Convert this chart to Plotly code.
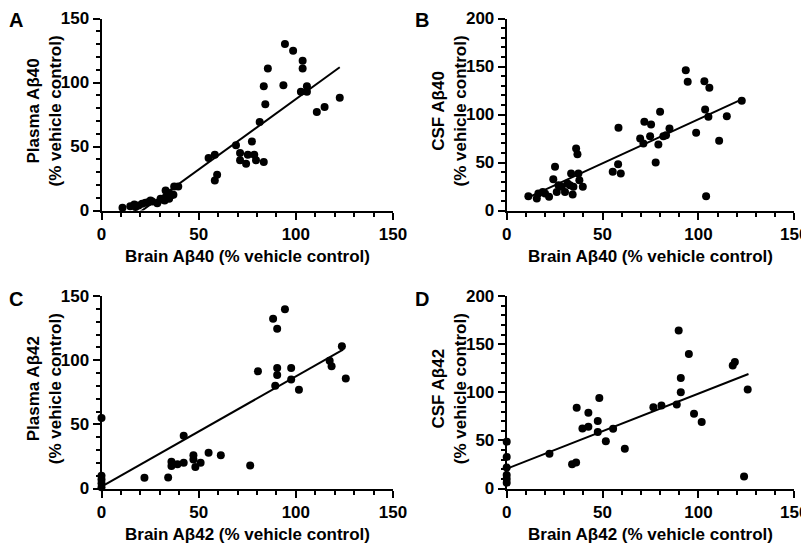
import plotly.graph_objects as go

# ---------------- data ----------------
a_x = [10.8, 14.8, 16.9, 17.5, 19.1, 20.9, 22.6, 24.0, 25.2, 26.1, 28.7, 30.4, 31.0, 32.5, 33.0, 33.6,
       34.8, 35.0, 35.7, 37.0, 37.4, 39.5, 55.1, 58.3, 58.3, 59.5, 69.2, 71.3, 71.3, 74.4, 75.3,
       77.4, 78.6, 79.5, 83.5, 81.4, 83.5, 84.3, 85.6, 93.6, 94.4, 98.6, 102.6, 103.5, 103.5,
       105.7, 105.7, 110.8, 114.8, 122.6]
a_y = [2.1, 3.4, 4.7, 2.8, 3.9, 5.2, 6.0, 6.5, 7.8, 7.0, 5.7, 9.1, 8.5, 7.8, 15.7, 10.4,
       9.1, 13.5, 11.7, 12.3, 18.8, 18.8, 41.0, 43.6, 23.5, 27.9, 50.9, 44.9, 39.2, 36.6, 43.6,
       54.0, 43.6, 39.2, 37.9, 69.2, 97.1, 83.0, 111.0, 97.9, 130.0, 124.8, 92.7, 117.0, 111.0,
       97.1, 92.7, 77.0, 80.9, 88.0]
a_fit_x = [10.8, 122.6]
a_fit_y = [-11.1, 111.9]

b_x = [11.3, 15.7, 16.5, 18.8, 20.0, 22.1, 25.2, 24.3, 26.1, 27.0, 28.7, 30.4, 31.7, 33.0, 33.6,
       34.4, 34.8, 36.2, 36.9, 37.4, 37.9, 39.7, 55.3, 58.1, 58.3, 59.5, 69.6, 71.3, 71.8, 74.8,
       75.3, 77.7, 79.1, 80.0, 81.7, 83.1, 84.9, 93.4, 94.4, 98.8, 103.1, 103.5, 104.0, 105.2,
       105.7, 110.8, 114.8, 122.6]
b_y = [14.9, 12.5, 17.7, 19.4, 17.7, 14.2, 45.5, 32.6, 19.4, 26.4, 24.7, 19.4, 28.1, 26.4, 38.5,
       16.7, 24.7, 64.6, 58.7, 38.5, 31.6, 24.7, 40.3, 48.3, 86.1, 38.5, 75.0, 69.8, 92.4, 77.4,
       89.6, 50.0, 68.8, 102.8, 77.4, 78.5, 85.4, 146.2, 134.0, 80.9, 134.7, 105.2, 14.9, 97.6,
       127.8, 72.6, 98.3, 114.2]
b_fit_x = [11.3, 122.6]
b_fit_y = [13.7, 115.8]

c_x = [0, 0, 0, 0, 0, 22.1, 34.3, 36.0, 36.0, 39.1, 42.3, 42.3, 47.3, 47.3, 48.3, 51.0, 55.1,
       61.4, 76.5, 80.5, 88.3, 89.4, 90.4, 90.4, 90.4, 94.4, 97.6, 97.6, 101.6, 117.4, 118.4,
       123.7, 125.7]
c_y = [55.0, 10.0, 7.0, 4.0, 1.0, 8.3, 8.5, 20.8, 17.6, 18.9, 20.0, 41.1, 26.0, 22.6, 16.8, 20.0,
       27.8, 26.0, 17.9, 91.3, 132.2, 80.0, 93.9, 88.4, 124.4, 139.6, 93.9, 84.9, 77.0, 99.6,
       95.2, 110.8, 85.8]
c_fit_x = [0, 124.3]
c_fit_y = [1.5, 108.2]

d_x = [0, 0, 0, 0, 0, 0, 22.3, 34.1, 36.2, 36.5, 39.5, 42.6, 42.6, 47.5, 47.5, 48.3, 51.7, 55.5,
       61.6, 76.5, 80.7, 88.7, 89.7, 90.8, 90.8, 95.0, 97.7, 101.7, 117.9, 119.0, 123.8, 125.7]
d_y = [48.6, 32.8, 21.7, 14.0, 10.0, 6.0, 36.2, 25.2, 26.9, 83.8, 62.4, 64.1, 78.6, 70.0, 58.6,
       94.1, 49.0, 62.1, 41.4, 84.5, 86.2, 87.2, 164.1, 114.8, 100.0, 139.7, 77.6, 69.0, 127.9,
       131.4, 12.4, 102.8]
d_fit_x = [0, 126.1]
d_fit_y = [20.5, 119.0]

x_ticks = [0, 50, 100, 150]
y_ticks_ac = [0, 50, 100, 150]
y_ticks_bd = [0, 50, 100, 150, 200]

panels = [
    dict(letter="A", x=a_x, y=a_y, fx=a_fit_x, fy=a_fit_y, ymax=150, yt=y_ticks_ac,
         ytitle="Plasma Aβ40<br>(% vehicle control)", xtitle="Brain Aβ40 (% vehicle control)"),
    dict(letter="B", x=b_x, y=b_y, fx=b_fit_x, fy=b_fit_y, ymax=200, yt=y_ticks_bd,
         ytitle="CSF Aβ40<br>(% vehicle control)", xtitle="Brain Aβ40 (% vehicle control)"),
    dict(letter="C", x=c_x, y=c_y, fx=c_fit_x, fy=c_fit_y, ymax=150, yt=y_ticks_ac,
         ytitle="Plasma Aβ42<br>(% vehicle control)", xtitle="Brain Aβ42 (% vehicle control)"),
    dict(letter="D", x=d_x, y=d_y, fx=d_fit_x, fy=d_fit_y, ymax=200, yt=y_ticks_bd,
         ytitle="CSF Aβ42<br>(% vehicle control)", xtitle="Brain Aβ42 (% vehicle control)"),
]

# ---------------- layout geometry (window pixels) ----------------
W, H = 809, 548
OFF = 8  # the page body offsets the figure by 8 px
# (x_left, x_right, y_bottom_px, y_top_px) for each panel, in window pixels
geom = [
    (101.5, 393.0, 210.5, 18.5),
    (506.7, 794.3, 210.5, 18.5),
    (101.5, 393.0, 488.5, 296.0),
    (506.7, 794.3, 488.5, 296.0),
]
ytitle_x = [44, 449, 44, 449]
letter_pos = [(16, 20), (422, 20), (16, 299), (422, 299)]


def px(x):
    return (x - OFF) / W


def py(y):
    return 1 - (y - OFF) / H


FONT = "Liberation Sans, Arial, sans-serif"

fig = go.Figure()
layout = dict(
    width=W, height=H, margin=dict(l=0, r=0, t=0, b=0, pad=0, autoexpand=False),
    paper_bgcolor="white", plot_bgcolor="white", showlegend=False,
    font=dict(family=FONT, color="black"),
)
annotations = []

for i, (p, g) in enumerate(zip(panels, geom)):
    n = i + 1
    xa = "x" if n == 1 else f"x{n}"
    ya = "y" if n == 1 else f"y{n}"
    xl, xr, yb, yt = g
    common = dict(
        showline=True, linecolor="black", linewidth=2, showgrid=False, zeroline=False,
        ticks="outside", ticklen=7, tickwidth=2, tickcolor="black", automargin=False,
        tickfont=dict(family=FONT, size=17, color="black", weight="bold"),
        minor=dict(ticks="outside", ticklen=4, tickwidth=2, tickcolor="black", dtick=10, tick0=0),
    )
    layout["xaxis" if n == 1 else f"xaxis{n}"] = dict(
        common, domain=[px(xl), px(xr)], range=[0, 150], tickvals=x_ticks,
        anchor=ya, fixedrange=True,
    )
    layout["yaxis" if n == 1 else f"yaxis{n}"] = dict(
        common, domain=[py(yb), py(yt)], range=[0, p["ymax"]], tickvals=p["yt"],
        anchor=xa, fixedrange=True,
    )
    fig.add_trace(go.Scatter(x=p["fx"], y=p["fy"], mode="lines", xaxis=xa, yaxis=ya,
                             line=dict(color="black", width=2), hoverinfo="skip"))
    fig.add_trace(go.Scatter(x=p["x"], y=p["y"], mode="markers", xaxis=xa, yaxis=ya,
                             marker=dict(color="black", size=8), cliponaxis=False))
    # x title
    annotations.append(dict(
        text=p["xtitle"], xref="paper", yref="paper", x=px((xl + xr) / 2),
        y=py(yb + 46), xanchor="center", yanchor="middle", showarrow=False,
        font=dict(family=FONT, size=17, color="black", weight="bold")))
    # y title
    annotations.append(dict(
        text=p["ytitle"], xref="paper", yref="paper", x=px(ytitle_x[i]),
        y=py((yb + yt) / 2 - 3), xanchor="center", yanchor="middle", showarrow=False,
        textangle=-90, font=dict(family=FONT, size=17, color="black", weight="bold")))
    # panel letter
    lx, ly = letter_pos[i]
    annotations.append(dict(
        text=p["letter"], xref="paper", yref="paper", x=px(lx), y=py(ly),
        xanchor="center", yanchor="middle", showarrow=False,
        font=dict(family=FONT, size=20, color="black", weight="bold")))

layout["annotations"] = annotations
fig.update_layout(**layout)
fig.write_html("out.html")
